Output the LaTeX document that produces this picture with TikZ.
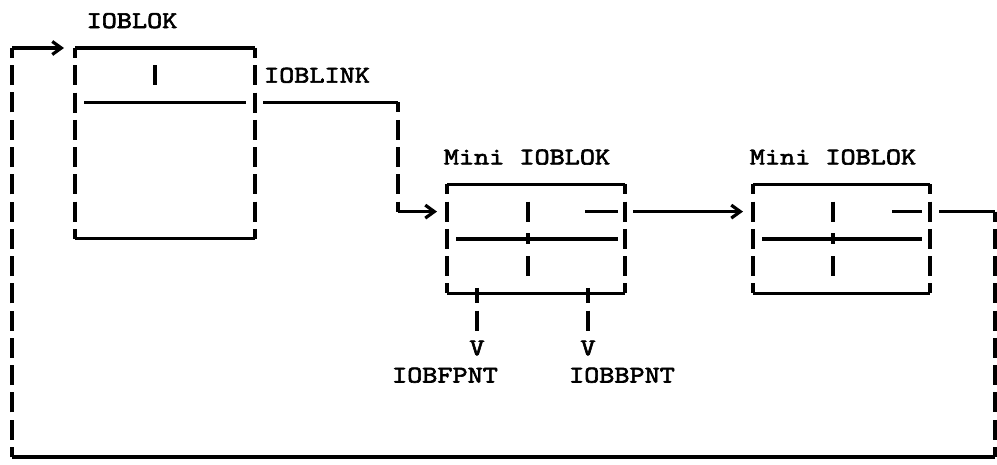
\documentclass[tikz,border=0pt]{standalone}
\usepackage{fontspec}
\usetikzlibrary{arrows.meta}
\newfontfamily\lblfont{lmmono10-regular}[Extension=.otf,FakeBold=2.6,FakeStretch=1.2]
\tikzset{
  hline/.style={line width=3.2pt, line cap=butt},
  vline/.style={line width=3.2pt, dash pattern=on 20pt off 7.27pt, dash phase=10pt},
  arr/.style={-{Straight Barb[length=9pt,width=13pt]}},
  lbl/.style={inner sep=0pt, font=\fontsize{24}{25}\lblfont}
}
\begin{document}
\begin{tikzpicture}[x=1pt,y=-1pt]
\useasboundingbox (0,0) rectangle (997,465);
% ---------- IOBLOK box ----------
\coordinate (aTL) at (75,48);   \coordinate (aTR) at (255,48);
\coordinate (aBL) at (75,238.9); \coordinate (aBR) at (255,238.9);
\draw[hline] (aTL) -- (aTR);
\draw[hline] (aBL) -- (aBR);
\draw[vline] (aTL) -- (aBL);
\draw[vline] (aTR) -- (aBR);
\draw[hline] (155,65.3) -- (155,85.3);
\draw[hline] (84,102.5) -- (246,102.5);
\node[lbl] (tA) at (132,20.7) {IOBLOK};
\node[lbl] (tL) at (317,75.3) {IOBLINK};
% ---------- IOBLINK connector ----------
\coordinate (l0) at (263,102.5); \coordinate (l1) at (398,102.5);
\coordinate (l2) at (398,211.6); \coordinate (m1) at (437,211.6);
\draw[hline] (l0) -- (l1);
\draw[vline] (l1) -- (l2);
\draw[hline,arr] (l2) -- (m1);
% ---------- Mini box B ----------
\coordinate (bTL) at (447,184.4); \coordinate (bTR) at (625,184.4);
\coordinate (bBL) at (447,293.4); \coordinate (bBR) at (625,293.4);
\draw[hline] (bTL) -- (bTR);
\draw[hline] (bBL) -- (bBR);
\draw[vline] (bTL) -- (bBL);
\draw[vline] (bTR) -- (bBR);
\draw[hline] (528,201.6) -- (528,221.6);
\draw[hline] (528,256.2) -- (528,276.2);
\draw[hline] (456,239) -- (618,239);
\draw[hline] (528,233.4) -- (528,244.4);
\draw[hline] (585,211.6) -- (618,211.6);
\draw[hline] (477,287.9) -- (477,298.9);
\draw[hline] (588,287.9) -- (588,298.9);
\node[lbl] (tB) at (527,157.1) {Mini IOBLOK};
\coordinate (f0) at (477,293.4); \coordinate (f1) at (477,330.7);
\coordinate (g0) at (588,293.4); \coordinate (g1) at (588,330.7);
\draw[vline] (f0) -- (f1);
\draw[vline] (g0) -- (g1);
\node[lbl] (vF) at (477,348) {V};
\node[lbl] (vB) at (588,348) {V};
\node[lbl] (tF) at (445,375.2) {IOBFPNT};
\node[lbl] (tBB) at (622,375.2) {IOBBPNT};
% ---------- connector B -> C ----------
\coordinate (bc0) at (633,211.6); \coordinate (bc1) at (743,211.6);
\draw[hline,arr] (bc0) -- (bc1);
% ---------- Mini box C ----------
\coordinate (cTL) at (753,184.4); \coordinate (cTR) at (930,184.4);
\coordinate (cBL) at (753,293.4); \coordinate (cBR) at (930,293.4);
\draw[hline] (cTL) -- (cTR);
\draw[hline] (cBL) -- (cBR);
\draw[vline] (cTL) -- (cBL);
\draw[vline] (cTR) -- (cBR);
\draw[hline] (833,201.6) -- (833,221.6);
\draw[hline] (833,256.2) -- (833,276.2);
\draw[hline] (762,239) -- (922,239);
\draw[hline] (833,233.4) -- (833,244.4);
\draw[hline] (892,211.6) -- (922,211.6);
\node[lbl] (tC) at (833,157.1) {Mini IOBLOK};
% ---------- return loop ----------
\coordinate (r0) at (939,211.6); \coordinate (r1) at (995,211.6);
\coordinate (r2) at (995,457);   \coordinate (r3) at (12,457);
\coordinate (r4) at (12,48);     \coordinate (r5) at (64,48);
\draw[hline] (r0) -- (r1);
\draw[vline] (r1) -- (r2);
\draw[hline] (r2) -- (r3);
\draw[vline] (r3) -- (r4);
\draw[hline,arr] (r4) -- (r5);
\end{tikzpicture}
\end{document}
